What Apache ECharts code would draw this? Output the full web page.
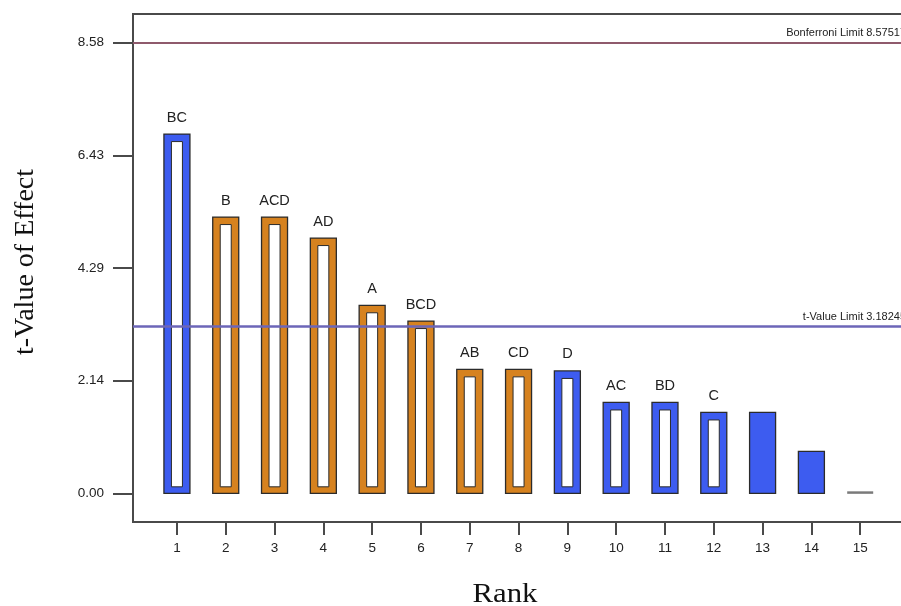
<!DOCTYPE html>
<html>
<head>
<meta charset="utf-8">
<script src="https://cdn.jsdelivr.net/npm/echarts@6/dist/echarts.min.js"></script>
<style>
html,body{margin:0;padding:0;background:#fff;}
#chart{width:901px;height:606px;}
</style>
</head>
<body>
<div id="chart"></div>
<script>
// ---- data ----
var ranks = [1,2,3,4,5,6,7,8,9,10,11,12,13,14,15];
var tValues = [6.84,5.26,5.26,4.86,3.58,3.28,2.36,2.36,2.33,1.73,1.73,1.54,1.54,0.80,0.03];
var effectLabels = ['BC','B','ACD','AD','A','BCD','AB','CD','D','AC','BD','C','','',''];
var effectSign = ['pos','neg','neg','neg','neg','neg','neg','neg','pos','pos','pos','pos','pos','pos','none'];
var barStyle = ['hollow','hollow','hollow','hollow','hollow','hollow','hollow','hollow','hollow','hollow','hollow','hollow','filled','filled','flat'];
var yTickValues = [0, 2.145, 4.29, 6.435, 8.58];
var yTickLabels = ['0.00','2.14','4.29','6.43','8.58'];
var bonferroniLimit = 8.57517;
var tValueLimit = 3.18245;

var signColor = {pos:'#3d5cf0', neg:'#d6821f', none:'#808080'};

var chart = echarts.init(document.getElementById('chart'), null, {renderer:'canvas'});

var barData = ranks.map(function(r,i){ return [r, tValues[i], i]; });

function renderBar(params, api){
  var idx = api.value(2);
  var x = api.value(0), y = api.value(1);
  var top = api.coord([x, y]);
  var base = api.coord([x, 0]);
  var w = 26;
  var left = top[0] - w/2;
  var h = base[1] - top[1];
  var col = signColor[effectSign[idx]];
  var style = barStyle[idx];
  var children = [];
  if (style === 'flat') {
    children.push({type:'rect', shape:{x:left, y:base[1]-2, width:w, height:2.5}, style:{fill:'#7a7a7a'}});
  } else {
    children.push({type:'rect', shape:{x:left, y:top[1], width:w, height:h},
      style:{fill:col, stroke:'#2b2b2b', lineWidth:1.3}});
    if (style === 'hollow') {
      var inset = 7.5;
      children.push({type:'rect', shape:{x:left+inset, y:top[1]+inset, width:w-2*inset, height:h-inset-6.5},
        style:{fill:'#ffffff', stroke:'#2b2b2b', lineWidth:1}});
    }
  }
  if (effectLabels[idx]) {
    children.push({type:'text', style:{text:effectLabels[idx], x:top[0], y:top[1]-9,
      align:'center', verticalAlign:'bottom', fill:'#222', font:'14.5px "Liberation Sans", Arial, sans-serif'}});
  }
  return {type:'group', children:children};
}

var option = {
  backgroundColor:'#ffffff',
  animation:false,
  grid:{left:133, width:776, top:14, bottom:84, show:true, borderColor:'#4a4a4a', borderWidth:2, backgroundColor:'transparent', outerBoundsMode:'none', containLabel:false},
  xAxis:{
    type:'value', min:0.1, max:16,
    axisLine:{show:false, onZero:false},
    splitLine:{show:false},
    axisTick:{show:true, customValues:ranks, length:13, lineStyle:{color:'#4a4a4a', width:2}},
    axisLabel:{customValues:ranks, margin:19, color:'#222', fontSize:13.5, fontFamily:'"Liberation Sans", Arial, sans-serif'}
  },
  yAxis:{
    type:'value', min:-0.546, max:9.126,
    axisLine:{show:false, onZero:false},
    splitLine:{show:false},
    axisTick:{show:true, customValues:yTickValues, length:20, lineStyle:{color:'#4a4a4a', width:2}},
    axisLabel:{customValues:yTickValues, margin:29, color:'#222', fontSize:13.5, fontFamily:'"Liberation Sans", Arial, sans-serif',
      formatter:function(v){ var k = yTickValues.indexOf(v); return k>=0 ? yTickLabels[k] : ''; }}
  },
  graphic:[
    {type:'text', x:26, y:262, rotation:Math.PI/2, style:{text:'t-Value of Effect', fill:'#111', font:'28px "Liberation Serif", "Times New Roman", serif', align:'center', verticalAlign:'middle'}},
    {type:'text', x:505, y:595, scaleX:1.14, style:{text:'Rank', fill:'#111', font:'27px "Liberation Serif", "Times New Roman", serif', align:'center', verticalAlign:'middle'}}
  ],
  series:[
    {type:'custom', renderItem:renderBar, data:barData, encode:{x:0,y:1}, clip:false, z:3},
    {type:'line', data:[], markLine:{
      symbol:'none', silent:true, animation:false,
      data:[
        {yAxis:bonferroniLimit, lineStyle:{color:'#8f5a6c', width:2, type:'solid'},
         label:{show:true, position:'insideEndTop', formatter:'Bonferroni Limit 8.57517', color:'#222', fontSize:11, fontFamily:'"Liberation Sans", Arial, sans-serif', distance:[3,4]}},
        {yAxis:tValueLimit, lineStyle:{color:'#6c66b8', width:2.5, type:'solid'},
         label:{show:true, position:'insideEndTop', formatter:'t-Value Limit 3.18245', color:'#222', fontSize:11, fontFamily:'"Liberation Sans", Arial, sans-serif', distance:[3,4]}}
      ]
    }}
  ]
};
chart.setOption(option);
</script>
</body>
</html>
